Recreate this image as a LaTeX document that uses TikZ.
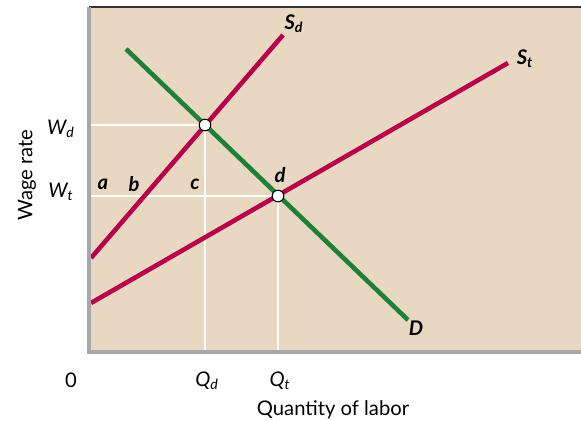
\documentclass[tikz,border=0pt]{standalone}
\usepackage{fontspec}
\setmainfont{Lato}
\usepackage{tikz}

\definecolor{beige}{HTML}{E8D8C1}
\definecolor{crimson}{HTML}{B8004A}
\definecolor{leaf}{HTML}{1E8038}
\definecolor{axisgray}{HTML}{A6A8AB}

\begin{document}
\begin{tikzpicture}[x=0.02cm,y=-0.02cm,
  every node/.style={inner sep=1pt,font=\fontsize{11.5}{13}\selectfont},
  supply/.style={crimson,line width=2.6pt},
  demand/.style={leaf,line width=2.6pt},
  guide/.style={white,line width=0.9pt},
  eqpoint/.style={circle,draw=black,line width=0.6pt,fill=white,minimum size=6.6pt,inner sep=0pt}]
\useasboundingbox (0,0) rectangle (581,421);
\fill[beige] (89,7) rectangle (581,352);
\draw[black!80,line width=0.7pt] (89,7)--(581,7);
\coordinate (origin) at (89,352);
\coordinate (sdlow) at (91,258);
\coordinate (sdhigh) at (283,35);
\coordinate (stlow) at (91,303);
\coordinate (sthigh) at (508,63);
\coordinate (dhigh) at (126,49);
\coordinate (dlow) at (408,320);
\coordinate (eqd) at (205,125);
\coordinate (eqt) at (278,196);
\draw[guide] (eqd)--(eqd -| origin);
\draw[guide] (eqd)--(eqd |- origin);
\draw[guide] (eqt)--(eqt -| origin);
\draw[guide] (eqt)--(eqt |- origin);
\draw[supply] (sdlow)--(sdhigh);
\draw[supply] (stlow)--(sthigh);
\draw[demand] (dhigh)--(dlow);
\node[eqpoint] (dot1) at (eqd) {};
\node[eqpoint] (dot2) at (eqt) {};
\draw[axisgray,line width=2.3pt] (89,7)--(origin)--(581,352);
\node (sdlab) at (294,24) {\bfseries\itshape S\textsubscript{d}};
\node (stlab) at (525,59) {\bfseries\itshape S\textsubscript{t}};
\node (dlab) at (416,328) {\bfseries\itshape D};
\node (ptd) at (280,175) {\bfseries\itshape d};
\node (pta) at (103,184) {\bfseries\itshape a};
\node (ptb) at (134,184) {\bfseries\itshape b};
\node (ptc) at (195,184) {\bfseries\itshape c};
\node (wd) at (61,129) {\itshape W\textsubscript{d}};
\node (wt) at (61,192) {\itshape W\textsubscript{t}};
\node (zero) at (71,380) {0};
\node (qd) at (207,381) {\itshape Q\textsubscript{d}};
\node (qt) at (280,381) {\itshape Q\textsubscript{t}};
\node (xlab) at (333,410) {Quantity of labor};
\node[rotate=90] (ylab) at (27,175) {Wage rate};
\end{tikzpicture}
\end{document}
